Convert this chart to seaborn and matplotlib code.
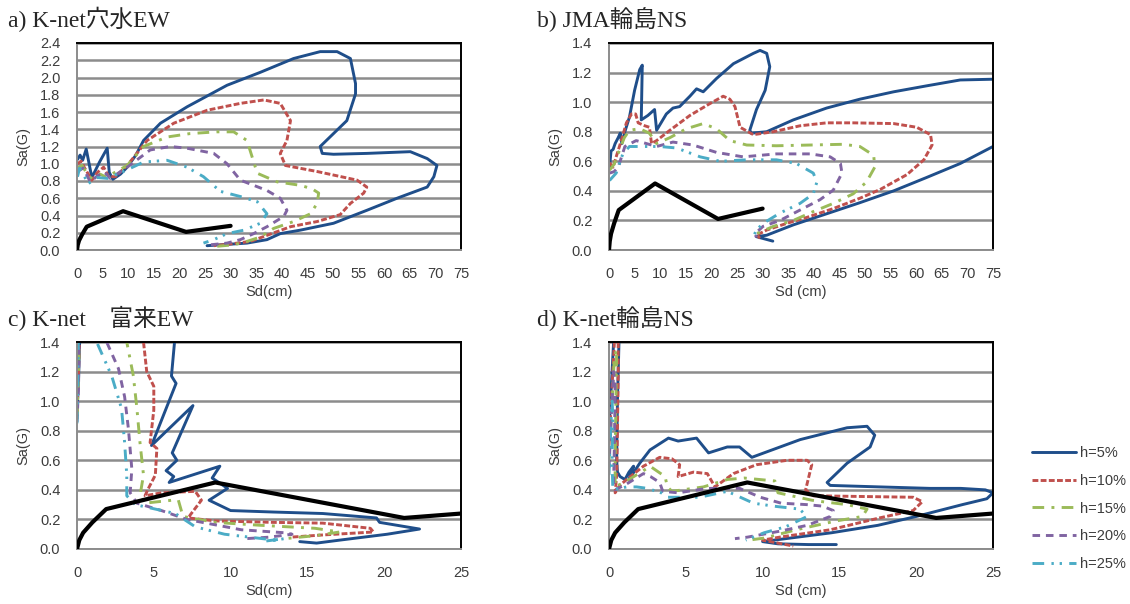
import matplotlib
matplotlib.use("Agg")
import matplotlib.pyplot as plt
import numpy as np
import pandas as pd
import seaborn as sns

sns.set_style("white")
plt.rcParams['font.family'] = ['Liberation Sans', 'Noto Sans CJK JP', 'DejaVu Sans']

# damping labels and colours (Excel 2007 palette)
LABELS = ["h=5%", "h=10%", "h=15%", "h=20%", "h=25%"]
COLORS = ["#1F4E8A", "#C0504D", "#9BBB59", "#8064A2", "#4BACC6"]
DASHES = ["", (2.0, 0.8), (4.0, 2.5, 1.0, 2.5), (2.6, 2.0), (4.0, 2.5, 0.8, 2.0, 0.8, 2.5)]

# capacity curve (black), same for every panel
CAP_SD = [0, 0.15, 0.4, 1.0, 1.9, 9.0, 21.3, 30.0]
CAP_SA = [0, 0.06, 0.11, 0.18, 0.27, 0.45, 0.21, 0.28]

# ---------------- a) K-net 穴水 EW  (Sd, Sa)
A5 = [(0.1,1.05),(0.6,1.10),(1.1,1.04),(1.8,1.17),(2.9,0.84),(4.4,1.02),(5.9,1.18),(6.3,0.90),
      (7.0,0.82),(8.5,0.88),(9.8,0.96),(11.5,1.10),(13,1.27),(16.3,1.47),(21.5,1.66),(29.3,1.91),
      (35.8,2.06),(42.3,2.22),(47.5,2.30),(50.8,2.30),(53.4,2.22),(54.4,1.93),(54.4,1.81),(52.7,1.50),
      (50.1,1.35),(47.5,1.20),(47.9,1.12),(50.1,1.11),(56.6,1.12),(65.1,1.14),(68.4,1.06),(70.3,0.98),
      (69.7,0.85),(68.4,0.73),(62.5,0.60),(56.6,0.46),(50.1,0.31),(43.6,0.23),(39.7,0.19),(37.1,0.12),
      (33.2,0.08),(28,0.06),(25.4,0.05)]
A10 = [(0.1,1.0),(0.8,1.03),(1.5,0.95),(2.9,0.81),(4.0,0.90),(5.2,0.96),(6.2,0.85),(7.5,0.85),
       (9.8,0.98),(13.7,1.27),(18.9,1.47),(25.4,1.62),(31.9,1.70),(36.5,1.74),(39.7,1.70),(41.7,1.50),
       (41.0,1.27),(39.7,1.12),(40.7,0.98),(46.9,0.91),(54.7,0.81),(56.6,0.73),(56.0,0.66),(53.4,0.54),
       (51.4,0.41),(46.9,0.33),(41.7,0.27),(37.1,0.17),(33.9,0.10),(30,0.07),(26.7,0.05)]
A15 = [(0.1,0.95),(1.0,0.98),(2.0,0.88),(3.3,0.80),(4.5,0.88),(5.5,0.85),(6.5,0.87),(9.8,0.98),
       (13,1.2),(17.6,1.31),(22.1,1.35),(27.3,1.37),(30.6,1.37),(33.2,1.27),(34.2,1.08),(35.2,0.89),
       (39.1,0.79),(43.6,0.75),(45.9,0.71),(47.2,0.66),(46.9,0.54),(45.6,0.42),(42.3,0.33),(38.4,0.25),
       (35.8,0.15),(33.2,0.10),(30.6,0.06),(26.7,0.04)]
A20 = [(0.1,0.91),(1.2,0.95),(2.6,0.79),(4.0,0.86),(5.4,0.90),(6.5,0.83),(9.8,0.96),(14.3,1.16),
       (18.2,1.2),(21.5,1.18),(26.7,1.12),(29.3,1.0),(31.9,0.81),(37.1,0.69),(39.7,0.60),(41,0.46),
       (40.4,0.39),(37.1,0.27),(34.5,0.19),(31.9,0.12),(29.3,0.08),(26,0.06)]
A25 = [(0.1,0.85),(0.5,0.95),(1.2,0.88),(2.2,0.77),(4,0.84),(6,0.83),(9.8,0.93),(13,1.02),
       (17.6,1.04),(21.5,0.96),(24.7,0.85),(28,0.68),(31.9,0.62),(35.2,0.56),(37.1,0.42),(35.8,0.31),
       (32.6,0.23),(29.3,0.19),(26.7,0.12),(24.7,0.08)]

# ---------------- b) JMA 輪島 NS
B5 = [(0.1,0.56),(0.4,0.67),(0.8,0.68),(1.2,0.72),(1.8,0.76),(2.2,0.79),(2.5,0.72),(3.1,0.80),
      (4.0,0.90),(5.0,1.08),(6.0,1.22),(6.5,1.25),(6.3,0.88),(7.6,0.91),(8.9,0.95),(9.3,0.81),
      (11.2,0.92),(12.5,0.96),(13.8,0.97),(15.8,1.04),(17.1,1.09),(18.4,1.07),(21,1.16),(24.3,1.26),
      (28.2,1.33),(29.5,1.35),(30.8,1.33),(31.4,1.24),(30.5,1.08),(28.8,0.95),(27.5,0.81),(27.8,0.79),
      (30.8,0.80),(36,0.88),(42.5,0.96),(49,1.02),(55.6,1.07),(62,1.11),(68.6,1.15),(75,1.155),
      (82,1.16),(88,1.0),(84,0.80),(75,0.70),(68.6,0.585),(62,0.49),(55.6,0.40),(49,0.32),
      (42.5,0.245),(36,0.17),(30.8,0.10),(28.8,0.09),(32,0.06)]
B10 = [(0.1,0.59),(0.8,0.56),(1.4,0.63),(2.4,0.74),(3.4,0.86),(4.4,0.92),(5.2,0.92),(5.7,0.86),
       (7,0.84),(7.9,0.83),(8.3,0.72),(9.3,0.74),(11.9,0.81),(15.8,0.91),(19.7,0.99),(22.3,1.04),
       (23.6,1.02),(24.6,0.97),(25.6,0.83),(28.2,0.78),(32.1,0.80),(37.3,0.84),(42.5,0.86),(47.7,0.86),
       (55.6,0.855),(60.1,0.83),(62.8,0.78),(63.1,0.71),(61.5,0.61),(58.2,0.51),(53,0.41),(49,0.35),
       (43.8,0.28),(38.6,0.22),(34.7,0.18),(30.8,0.135),(28.8,0.10),(29.5,0.08)]
B15 = [(0.1,0.54),(1,0.58),(2.1,0.68),(3,0.76),(4,0.81),(6,0.82),(7.9,0.79),(9.3,0.72),
       (11.9,0.76),(15.1,0.82),(18.4,0.855),(21,0.82),(23.6,0.74),(26.9,0.71),(32.7,0.705),(39.3,0.71),
       (45.8,0.715),(49,0.70),(51.7,0.64),(51.9,0.56),(50.3,0.46),(47.7,0.38),(43.8,0.315),(39.9,0.26),
       (36,0.20),(32.1,0.16),(28.8,0.11),(29.2,0.085)]
B20 = [(0.1,0.52),(1,0.53),(1.8,0.56),(3.1,0.70),(5.3,0.74),(7.3,0.72),(9.3,0.70),(12.5,0.73),
       (16.4,0.71),(21,0.66),(26.2,0.63),(32.7,0.65),(39.3,0.65),(43.2,0.63),(45.2,0.585),(45.5,0.52),
       (43.8,0.405),(41.2,0.34),(37.3,0.27),(33.4,0.20),(30.1,0.16),(28.5,0.11),(28.8,0.085)]
B25 = [(0.1,0.47),(1.4,0.52),(2.7,0.65),(4,0.70),(6.7,0.70),(9.9,0.70),(13.2,0.69),(17.8,0.63),
       (21.7,0.60),(26.9,0.61),(32.7,0.61),(36.6,0.585),(39.9,0.52),(40.6,0.46),(39.9,0.38),(37.3,0.315),
       (33.4,0.25),(30.1,0.18),(28.8,0.135),(28.2,0.09),(28.8,0.085)]

# ---------------- c) K-net 富来 EW  (peaks run off the top of the chart)
C5 = [(0,0.92),(0.1,1.15),(0.2,1.5),(1.0,2.3),(4.0,2.4),(6.6,1.7),(6.35,1.40),(6.15,1.17),
      (6.45,1.12),(4.85,0.70),(7.55,0.97),(6.2,0.65),(6.5,0.60),(5.8,0.53),(6.3,0.49),(6.0,0.45),
      (9.3,0.56),(8.8,0.48),(9.8,0.41),(8.6,0.33),(10.0,0.26),(12.8,0.25),(16,0.24),(19.5,0.21),
      (19.7,0.18),(22.3,0.135),(20.2,0.10),(17.1,0.06),(15.6,0.04),(14.5,0.05)]
C10 = [(0,0.9),(0.1,1.2),(0.2,1.6),(2,2.0),(4.5,1.6),(4.33,1.40),(4.54,1.2),(5.0,1.1),
       (5.0,0.94),(4.76,0.72),(5.2,0.68),(5.1,0.50),(4.6,0.40),(4.43,0.36),(5.5,0.38),(7.7,0.39),
       (8.1,0.33),(7.37,0.23),(7.26,0.21),(9.0,0.19),(12.8,0.18),(16,0.175),(19.1,0.14),(19.3,0.115),
       (16,0.095),(13.9,0.08)]
C15 = [(0,0.88),(0.1,1.2),(0.2,1.6),(2,1.8),(3.3,1.5),(3.24,1.40),(3.67,1.17),(3.9,0.95),
       (4.1,0.72),(4.33,0.50),(4.1,0.36),(4.4,0.31),(6.2,0.33),(6.6,0.33),(6.9,0.22),(9,0.18),
       (12,0.16),(15.5,0.14),(17.1,0.115),(15.5,0.09),(13.5,0.07)]
C20 = [(0,0.86),(0.1,1.1),(0.15,1.5),(1,1.7),(1.93,1.40),(2.7,1.22),(3.1,1.03),(3.35,0.81),
       (3.57,0.54),(3.46,0.38),(3.9,0.31),(5.5,0.26),(7.15,0.20),(10.7,0.13),(13.5,0.11),(14,0.10),
       (12.5,0.08),(11,0.07)]
C25 = [(0,0.85),(0.05,1.1),(0.1,1.5),(0.8,1.6),(1.28,1.40),(2.26,1.17),(2.9,0.95),(3.1,0.72),
       (3.24,0.50),(3.24,0.36),(3.8,0.30),(6.4,0.24),(7.7,0.15),(9.6,0.10),(12.9,0.06),(13.5,0.07),
       (12,0.05)]

# ---------------- d) K-net 輪島 NS
D5 = [(0,0.8),(0.2,1.2),(0.4,1.6),(0.6,1.8),(0.65,1.4),(0.55,1.0),(0.5,0.6),(0.55,0.52),
      (0.72,0.49),(1.04,0.47),(1.3,0.52),(1.6,0.56),(1.3,0.47),(2.0,0.58),(2.67,0.67),(3.87,0.75),
      (4.5,0.73),(5.7,0.75),(6.48,0.65),(7.7,0.69),(8.5,0.69),(9.3,0.62),(12.45,0.74),(15.5,0.82),
      (16.8,0.83),(17.3,0.77),(17,0.69),(15.5,0.58),(14.2,0.45),(14.4,0.43),(17.6,0.42),(20.9,0.41),
      (22.9,0.41),(24.5,0.40),(25,0.38),(24.6,0.34),(23,0.30),(20,0.22),(17.5,0.16),(14.5,0.11),
      (11.5,0.07),(10,0.05),(11,0.035),(13,0.03),(14.8,0.03)]
D10 = [(0,0.7),(0.2,1.1),(0.4,1.5),(0.6,1.6),(0.6,1.2),(0.55,0.8),(0.5,0.5),(0.4,0.38),
       (0.7,0.43),(1.15,0.47),(2.24,0.56),(3.3,0.62),(4.1,0.61),(4.6,0.57),(4.5,0.49),(5.5,0.52),
       (6.4,0.51),(6.9,0.42),(8.1,0.51),(9.6,0.57),(11.6,0.60),(12.9,0.60),(13.2,0.57),(12.8,0.40),
       (13.3,0.36),(19.8,0.35),(20.4,0.32),(19.8,0.26),(17.6,0.21),(14.4,0.13),(11.1,0.08),(10,0.06),
       (11,0.04),(12,0.02)]
D15 = [(0,0.6),(0.2,1.0),(0.35,1.3),(0.5,1.35),(0.45,1.0),(0.4,0.6),(0.4,0.42),(1.15,0.46),
       (2.24,0.53),(2.67,0.56),(3.65,0.49),(3.8,0.42),(4.1,0.39),(6.15,0.42),(7.7,0.47),(8.8,0.48),
       (10.8,0.46),(11,0.38),(13.2,0.33),(13.9,0.32),(15.5,0.30),(16.8,0.27),(16.5,0.22),(14.8,0.19),
       (12.2,0.13),(10.1,0.074),(9.1,0.06)]
D20 = [(0,0.55),(0.15,0.9),(0.3,1.2),(0.4,1.1),(0.35,0.7),(0.3,0.45),(0.4,0.40),(1.15,0.44),
       (2.24,0.51),(2.7,0.49),(3.3,0.45),(3.5,0.39),(4.5,0.38),(6.4,0.41),(8.5,0.41),(9.85,0.35),
       (11.2,0.31),(12.9,0.30),(13.9,0.29),(14.6,0.26),(14.4,0.22),(12.9,0.16),(11.1,0.12),(9,0.08),
       (8.2,0.07)]
D25 = [(0,0.5),(0.1,0.8),(0.2,1.0),(0.25,0.9),(0.2,0.6),(0.25,0.40),(1.15,0.42),(1.8,0.42),
       (2.5,0.41),(3.4,0.38),(3.8,0.35),(5.9,0.35),(7.7,0.39),(9.4,0.31),(10.7,0.29),(12.4,0.27),
       (12.9,0.22),(11.5,0.15),(10.1,0.11),(8.9,0.06)]

TITLES = ["a) K-net穴水EW", "b) JMA輪島NS", "c) K-net\u3000富来EW", "d) K-net輪島NS"]
XLABELS = ["Sd(cm)", "Sd (cm)", "Sd(cm)", "Sd (cm)"]


def frame(curves):
    rows = []
    for lab, pts in zip(LABELS, curves):
        for sd, sa in pts:
            rows.append((lab, sd, sa))
    return pd.DataFrame(rows, columns=["h", "Sd", "Sa"])


panels = [
    (frame([A5, A10, A15, A20, A25]), 75, 2.4),
    (frame([B5, B10, B15, B20, B25]), 75, 1.4),
    (frame([C5, C10, C15, C20, C25]), 25, 1.4),
    (frame([D5, D10, D15, D20, D25]), 25, 1.4),
]

W, H = 1130, 604
fig = plt.figure(figsize=(W / 100, H / 100), dpi=100)
boxes = [(77, 43), (609, 43), (77, 342), (609, 342)]  # left, top in pixels
title_pos = [(8, 27), (537, 27), (8, 326), (537, 326)]
axw, axh = 384, 207
grey = "#8c8c8c"
txt = "#3c3c3c"

for i, (df, xmax, ymax) in enumerate(panels):
    l, t = boxes[i]
    ax = fig.add_axes([l / W, 1 - (t + axh) / H, axw / W, axh / H])
    sns.lineplot(data=df, x="Sd", y="Sa", hue="h", style="h",
                 hue_order=LABELS, style_order=LABELS,
                 palette=dict(zip(LABELS, COLORS)), dashes=dict(zip(LABELS, DASHES)),
                 sort=False, estimator=None, lw=2.1, ax=ax, legend=(i == 3))
    sns.lineplot(x=CAP_SD, y=CAP_SA, color="black", lw=3.0, sort=False,
                 estimator=None, ax=ax, zorder=5)
    ax.set_xlim(0, xmax)
    ax.set_ylim(0, ymax)
    ax.set_xticks(np.arange(0, xmax + 0.1, 5))
    ax.set_yticks(np.arange(0, ymax + 0.01, 0.2))
    ax.set_yticklabels([f"{v:.1f}" for v in np.arange(0, ymax + 0.01, 0.2)])
    ax.yaxis.grid(True, color=grey, lw=1.8)
    ax.xaxis.grid(False)
    ax.set_axisbelow(True)
    for s in ["top", "right"]:
        ax.spines[s].set_color("black")
        ax.spines[s].set_linewidth(1.4)
    for s in ["left", "bottom"]:
        ax.spines[s].set_color(grey)
        ax.spines[s].set_linewidth(1.4)
    ax.tick_params(direction="out", length=4, width=1.1, color=grey,
                   labelcolor=txt, labelsize=10.5, pad=8)
    ax.set_xlabel(XLABELS[i], fontsize=10.5, color=txt, labelpad=3)
    ax.set_ylabel("Sa(G)", fontsize=10.5, color=txt, labelpad=7)
    tx, ty = title_pos[i]
    fig.text(tx / W, 1 - ty / H, TITLES[i], fontsize=17, va="baseline", ha="left",
             family=["Liberation Serif", "Noto Sans CJK JP"])
    if i == 3:
        sns.move_legend(ax, "upper left", bbox_to_anchor=(1026 / W, 1 - 440 / H),
                        bbox_transform=fig.transFigure, title=None, frameon=False,
                        fontsize=10.5, handlelength=3.0, labelspacing=0.95,
                        handletextpad=0.3, borderaxespad=0, labelcolor=txt)

fig.savefig("out.png", dpi=100)
